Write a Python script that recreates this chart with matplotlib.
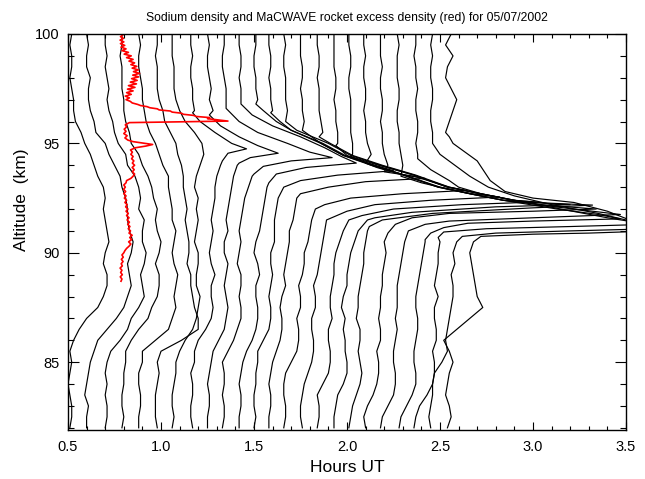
import numpy as np
import matplotlib
matplotlib.use("Agg")
import matplotlib.pyplot as plt

plt.rcParams['font.family'] = ['Liberation Sans', 'DejaVu Sans']

# altitude grid of the lidar profiles (km)
alt_km = np.arange(82.0, 100.01, 0.5)

# start time of each sodium profile (hours UT)
profile_start = [0.50, 0.59, 0.69, 0.78, 0.87, 0.96, 1.05, 1.15, 1.24, 1.32, 1.41, 1.49,
                 1.57, 1.65, 1.74, 1.83, 1.92, 2.00, 2.08, 2.17, 2.26, 2.35, 2.43, 2.52]

# sodium density on alt_km, drawn as offset from the start time (units of 0.01 h)
na_offset = [
    [1, 2, 2, 1, 0, 1, 2, 1, 3, 6, 10, 16, 19, 21, 21, 19, 20, 22, 21, 20, 19, 20, 19, 16, 14, 12, 9, 7, 4, 3, 3, 2, 1, 2, 2, 1, 2],
    [1, 1, 2, 0, 1, 2, 3, 5, 7, 12, 17, 21, 23, 25, 24, 23, 25, 26, 24, 23, 23, 22, 20, 19, 16, 13, 11, 6, 5, 3, 2, 2, 3, 1, 1, 2, 1],
    [1, 2, 2, 1, 2, 1, 2, 4, 9, 13, 15, 19, 22, 21, 20, 22, 23, 21, 21, 22, 19, 20, 19, 17, 13, 12, 8, 6, 5, 3, 2, 3, 2, 1, 2, 1, 1],
    [1, 2, 1, 1, 2, 2, 3, 3, 6, 10, 15, 17, 20, 21, 21, 19, 21, 22, 20, 19, 20, 18, 17, 15, 12, 10, 6, 5, 3, 2, 2, 1, 1, 1, 0, 1, 1],
    [1, 1, 2, 2, 1, 1, 3, 3, 10, 17, 19, 21, 20, 21, 22, 20, 19, 20, 21, 19, 19, 18, 17, 17, 14, 12, 10, 7, 5, 4, 3, 3, 2, 1, 1, 2, 1],
    [2, 1, 1, 1, 2, 3, 2, 4, 15, 24, 24, 22, 21, 20, 20, 18, 19, 19, 18, 17, 18, 17, 16, 16, 15, 13, 12, 9, 6, 5, 3, 2, 2, 2, 1, 2, 2],
    [1, 2, 1, 1, 2, 3, 3, 5, 8, 12, 14, 15, 16, 14, 14, 15, 15, 13, 14, 15, 14, 15, 13, 14, 16, 18, 17, 13, 8, 5, 3, 2, 2, 2, 1, 1, 1],
    [2, 1, 1, 2, 2, 1, 3, 3, 5, 9, 12, 13, 12, 12, 14, 12, 11, 12, 13, 12, 13, 14, 14, 15, 17, 20, 20, 14, 6, 3, 2, 2, 1, 1, 2, 1, 1],
    [1, 1, 2, 2, 1, 2, 3, 4, 7, 10, 11, 12, 11, 10, 11, 12, 10, 10, 12, 11, 12, 13, 14, 15, 17, 18, 18, 14, 8, 4, 2, 3, 2, 1, 1, 2, 1],
    [1, 2, 2, 1, 2, 2, 1, 4, 7, 9, 11, 11, 10, 11, 11, 9, 10, 11, 10, 11, 12, 13, 15, 17, 18, 18, 16, 12, 8, 4, 3, 3, 2, 1, 1, 2, 2],
    [1, 1, 2, 2, 1, 2, 3, 5, 8, 10, 11, 11, 10, 10, 12, 11, 9, 10, 12, 13, 14, 15, 16, 15, 16, 16, 15, 12, 8, 5, 2, 2, 1, 2, 2, 1, 1],
    [1, 2, 1, 1, 2, 2, 3, 3, 6, 9, 10, 10, 9, 10, 11, 10, 10, 12, 12, 12, 13, 14, 15, 16, 16, 16, 14, 10, 6, 4, 3, 2, 2, 1, 1, 2, 2],
    [1, 1, 2, 2, 1, 2, 3, 5, 7, 8, 8, 7, 8, 10, 9, 10, 11, 12, 12, 14, 15, 16, 16, 15, 14, 13, 12, 10, 6, 3, 2, 2, 1, 2, 2, 1, 1],
    [1, 2, 2, 1, 1, 2, 5, 8, 9, 9, 8, 10, 10, 9, 11, 12, 12, 14, 15, 16, 18, 17, 16, 15, 14, 13, 12, 9, 5, 3, 2, 2, 2, 1, 1, 2, 1],
    [2, 1, 1, 2, 3, 5, 7, 8, 8, 7, 7, 9, 9, 8, 10, 11, 12, 13, 14, 15, 16, 15, 14, 13, 12, 10, 8, 5, 3, 2, 2, 1, 2, 2, 1, 1, 1],
    [1, 2, 2, 1, 4, 7, 8, 8, 7, 7, 9, 8, 8, 9, 10, 10, 11, 13, 15, 18, 17, 16, 15, 14, 12, 10, 7, 4, 3, 2, 2, 2, 1, 2, 2, 1, 1],
    [1, 1, 2, 3, 6, 8, 8, 7, 7, 6, 7, 5, 6, 8, 8, 9, 10, 12, 14, 19, 18, 16, 15, 13, 11, 8, 3, 3, 2, 2, 1, 2, 2, 1, 1, 1, 1],
    [1, 2, 3, 5, 7, 8, 7, 6, 7, 7, 5, 6, 6, 7, 8, 9, 9, 10, 11, 14, 15, 14, 13, 12, 10, 3, 3, 2, 2, 2, 2, 1, 1, 2, 2, 1, 1],
    [2, 1, 3, 6, 8, 9, 9, 8, 10, 10, 9, 10, 10, 11, 11, 12, 13, 12, 14, 16, 15, 14, 13, 12, 9, 5, 3, 2, 2, 1, 2, 2, 1, 1, 2, 1, 1],
    [1, 2, 5, 8, 9, 9, 8, 8, 9, 10, 9, 10, 10, 10, 11, 12, 13, 14, 15, 16, 14, 13, 11, 8, 5, 3, 2, 2, 1, 2, 2, 1, 1, 2, 1, 1, 1],
    [2, 3, 6, 9, 11, 11, 10, 10, 11, 12, 12, 11, 11, 12, 13, 14, 15, 16, 17, 18, 16, 13, 10, 6, 4, 3, 2, 2, 1, 1, 2, 2, 1, 1, 1, 2, 1],
    [1, 2, 4, 8, 11, 12, 12, 11, 13, 13, 12, 12, 14, 12, 13, 14, 14, 15, 16, 15, 12, 9, 7, 5, 4, 3, 2, 3, 3, 2, 2, 3, 2, 2, 1, 2, 2],
    [2, 1, 2, 3, 3, 4, 8, 11, 10, 11, 12, 13, 14, 14, 13, 15, 14, 16, 15, 14, 12, 9, 6, 4, 3, 2, 3, 3, 2, 2, 3, 3, 2, 2, 3, 2, 3],
    [2, 4, 3, 1, 2, 3, 5, 3, 0, 7, 14, 21, 18, 17, 16, 15, 14, 15, 16, 15, 13, 10, 7, 5, 3, 2, 3, 1, 3, 5, 7, 4, 1, 2, 5, 1, 4],
]

# sporadic layer peaks: finer altitude samples (km) and plotted position (h)
layer_alt = [
    [], [], [], [], [], [], [],
    [96.4, 96.0, 95.5, 95.0, 94.75, 94.55, 94.2],
    [96.3, 95.8, 95.3, 94.9, 94.55, 94.35, 94.1],
    [96.6, 96.0, 95.5, 95.0, 94.6, 94.35, 94.2, 93.95, 93.6],
    [96.8, 96.3, 95.8, 95.3, 94.8, 94.4, 94.1, 93.9, 93.6, 93.2],
    [96.8, 96.5, 96.0, 95.6, 95.0, 94.45, 94.0, 93.75, 93.55, 93.3, 93.0],
    [96.4, 96.0, 95.6, 95.0, 94.45, 94.0, 93.55, 93.4, 93.25, 93.0, 92.7],
    [96.0, 95.6, 95.0, 94.45, 94.0, 93.55, 93.0, 92.85, 92.7, 92.5, 92.2],
    [95.6, 95.0, 94.45, 94.0, 93.55, 93.0, 92.7, 92.55, 92.4, 92.2, 91.9],
    [95.3, 95.0, 94.45, 94.0, 93.55, 93.0, 92.7, 92.4, 92.32, 92.2, 92.0, 91.7],
    [94.9, 94.45, 94.0, 93.55, 93.0, 92.7, 92.4, 92.27, 92.2, 92.1, 91.85, 91.6],
    [94.4, 94.0, 93.55, 93.0, 92.7, 92.4, 92.27, 92.18, 92.05, 91.8, 91.5, 91.2],
    [94.1, 93.9, 93.55, 93.0, 92.7, 92.4, 92.2, 92.0, 91.9, 91.8, 91.6, 91.3, 90.9],
    [93.7, 93.5, 93.0, 92.7, 92.4, 92.1, 91.75, 91.6, 91.45, 91.3, 91.0],
    [93.5, 93.2, 93.0, 92.7, 92.4, 92.0, 91.75, 91.55, 91.45, 91.35, 91.15, 90.9, 90.6],
    [94.3, 93.8, 93.3, 93.0, 92.7, 92.4, 92.0, 91.6, 91.3, 91.2, 91.1, 90.95, 90.7],
    [95.0, 94.5, 94.0, 93.5, 93.0, 92.6, 92.2, 91.8, 91.4, 91.1, 91.0, 90.9, 90.75, 90.5],
    [95.3, 95.0, 94.2, 93.3, 92.8, 92.5, 92.3, 91.9, 91.4, 91.0, 90.9, 90.85, 90.75, 90.5],
]
layer_pos = [
    [], [], [], [], [], [], [],
    [1.17, 1.21, 1.29, 1.38, 1.46, 1.36, 1.33],
    [1.26, 1.32, 1.42, 1.52, 1.63, 1.48, 1.42],
    [1.35, 1.42, 1.52, 1.68, 1.80, 1.92, 1.70, 1.55, 1.50],
    [1.43, 1.49, 1.60, 1.75, 1.88, 1.97, 2.05, 1.78, 1.62, 1.58],
    [1.51, 1.55, 1.62, 1.70, 1.87, 1.99, 2.15, 2.25, 1.95, 1.75, 1.66],
    [1.59, 1.64, 1.70, 1.86, 1.98, 2.14, 2.31, 2.42, 2.10, 1.90, 1.75],
    [1.67, 1.73, 1.90, 2.02, 2.18, 2.36, 2.54, 2.64, 2.30, 2.02, 1.88],
    [1.76, 1.86, 1.98, 2.13, 2.31, 2.50, 2.67, 2.82, 2.45, 2.15, 2.00],
    [1.85, 1.91, 2.03, 2.19, 2.37, 2.55, 2.72, 2.90, 3.02, 2.62, 2.25, 2.08],
    [1.94, 2.00, 2.14, 2.31, 2.49, 2.66, 2.84, 3.05, 3.20, 2.80, 2.35, 2.15],
    [2.02, 2.17, 2.36, 2.54, 2.71, 2.89, 3.08, 3.32, 2.99, 2.46, 2.19, 2.12],
    [2.10, 2.16, 2.30, 2.49, 2.66, 2.84, 3.03, 3.34, 3.00, 2.55, 2.35, 2.26, 2.22],
    [2.20, 2.36, 2.55, 2.72, 2.90, 3.12, 3.47, 3.00, 2.55, 2.42, 2.33],
    [2.29, 2.40, 2.50, 2.66, 2.84, 3.13, 3.35, 3.47, 3.00, 2.65, 2.52, 2.45, 2.42],
    [2.38, 2.45, 2.55, 2.60, 2.72, 2.90, 3.15, 3.40, 3.62, 3.20, 2.75, 2.52, 2.49],
    [2.46, 2.50, 2.58, 2.66, 2.76, 2.90, 3.10, 3.35, 3.55, 3.65, 3.20, 2.80, 2.62, 2.59],
    [2.55, 2.57, 2.70, 2.77, 2.85, 3.00, 3.22, 3.40, 3.55, 3.65, 3.30, 3.00, 2.72, 2.68],
]

# MaCWAVE rocket excess density (red), altitude (km) and plotted position (h)
rocket_alt = [88.7, 88.8, 88.9, 89.0, 89.1, 89.2, 89.3, 89.4, 89.5, 89.6, 89.7, 89.8, 89.9,
              90.0, 90.1, 90.2, 90.3, 90.4, 90.5, 90.6, 90.7, 90.8, 90.9, 91.0, 91.1, 91.2,
              91.3, 91.4, 91.5, 91.6, 91.7, 91.8, 91.9, 92.0, 92.1, 92.2, 92.3, 92.4, 92.5,
              92.6, 92.7, 92.8, 92.9, 93.0, 93.1, 93.2, 93.3, 93.4, 93.5, 93.6, 93.7, 93.8,
              93.9, 94.0, 94.1, 94.2, 94.3, 94.4, 94.5, 94.6, 94.7, 94.8, 94.88, 94.95, 95.02,
              95.08, 95.15, 95.25, 95.35, 95.45, 95.55, 95.65, 95.75, 95.85, 95.95, 96.02,
              96.08, 96.13, 96.18, 96.23, 96.28, 96.33, 96.38, 96.43, 96.48, 96.53, 96.58,
              96.63, 96.68, 96.73, 96.78, 96.85, 96.92, 97.0, 97.08, 97.16, 97.24, 97.32,
              97.4, 97.48, 97.56, 97.64, 97.72, 97.8, 97.88, 97.96, 98.04, 98.12, 98.2,
              98.28, 98.36, 98.44, 98.52, 98.6, 98.68, 98.76, 98.84, 98.92, 99.0, 99.08,
              99.16, 99.24, 99.32, 99.4, 99.48, 99.56, 99.64, 99.72, 99.8, 99.88, 99.96, 100.0]
rocket_pos = [0.785, 0.790, 0.781, 0.792, 0.783, 0.790, 0.780, 0.792, 0.786, 0.796, 0.787, 0.797, 0.790,
              0.800, 0.806, 0.815, 0.828, 0.838, 0.826, 0.842, 0.832, 0.845, 0.828, 0.836, 0.824, 0.833,
              0.821, 0.830, 0.818, 0.828, 0.815, 0.824, 0.812, 0.822, 0.810, 0.818, 0.806, 0.815, 0.803,
              0.812, 0.800, 0.810, 0.799, 0.808, 0.800, 0.812, 0.815, 0.838, 0.850, 0.858, 0.846, 0.856,
              0.845, 0.858, 0.846, 0.854, 0.842, 0.850, 0.838, 0.846, 0.836, 0.862, 0.920, 0.955, 0.900,
              0.850, 0.822, 0.806, 0.818, 0.800, 0.812, 0.802, 0.815, 0.808, 0.830, 1.360,
              1.300, 1.250, 1.262, 1.190, 1.175, 1.120, 1.110, 1.060, 1.050, 0.990, 0.980,
              0.940, 0.925, 0.890, 0.875, 0.845, 0.835, 0.812, 0.830, 0.808, 0.840, 0.815,
              0.850, 0.820, 0.860, 0.825, 0.868, 0.835, 0.872, 0.842, 0.880, 0.848, 0.885,
              0.852, 0.878, 0.845, 0.870, 0.838, 0.858, 0.828, 0.850, 0.815, 0.840, 0.802,
              0.825, 0.790, 0.812, 0.785, 0.805, 0.782, 0.800, 0.780, 0.798, 0.782, 0.796, 0.790]


def profile_line(i):
    """Profile i as (position, altitude), with the fine layer samples merged in."""
    pts = [(a, profile_start[i] + d / 100.0) for a, d in zip(alt_km, na_offset[i])]
    if layer_alt[i]:
        lo, hi = min(layer_alt[i]), max(layer_alt[i])
        pts = [p for p in pts if p[0] < lo or p[0] > hi]
        pts += list(zip(layer_alt[i], layer_pos[i]))
        pts.sort()
    alt, pos = zip(*pts)
    return pos, alt


fig = plt.figure(figsize=(6.45, 4.79), dpi=100)
ax = fig.add_axes([68 / 645, 49 / 479, 558 / 645, 396 / 479])

for i in range(len(profile_start)):
    pos, alt = profile_line(i)
    ax.plot(pos, alt, color='black', lw=0.85)

ax.plot(rocket_pos, rocket_alt, color='red', lw=1.2)

ax.set_xlim(0.5, 3.5)
ax.set_ylim(81.9, 100)
ax.set_xticks(np.arange(0.5, 3.51, 0.5))
ax.set_xticklabels(['%.1f' % v for v in np.arange(0.5, 3.51, 0.5)])
ax.set_xticks(np.arange(0.5, 3.51, 0.1), minor=True)
ax.set_yticks([85, 90, 95, 100])
ax.set_yticks(np.arange(82, 100.1, 1), minor=True)

ax.tick_params(which='both', direction='in', top=True, right=True, width=0.8)
ax.tick_params(axis='x', which='major', length=6, labelsize=10.5, pad=7)
ax.tick_params(axis='x', which='minor', length=3)
ax.tick_params(axis='y', which='major', length=8, labelsize=10.5, pad=6)
ax.tick_params(axis='y', which='minor', length=4.5)
for s in ax.spines.values():
    s.set_linewidth(1.0)

fig.text(347 / 645, 1 - 18 / 479,
         'Sodium density and MaCWAVE rocket excess density (red) for 05/07/2002',
         ha='center', va='center', fontsize=8.7)
fig.text(347 / 645, 1 - 467 / 479, 'Hours UT', ha='center', va='center', fontsize=12.5)
fig.text(22 / 645, 1 - 200 / 479, 'Altitude  (km)', ha='center', va='center',
         rotation=90, fontsize=12.5)

fig.savefig('out.png', dpi=100)
